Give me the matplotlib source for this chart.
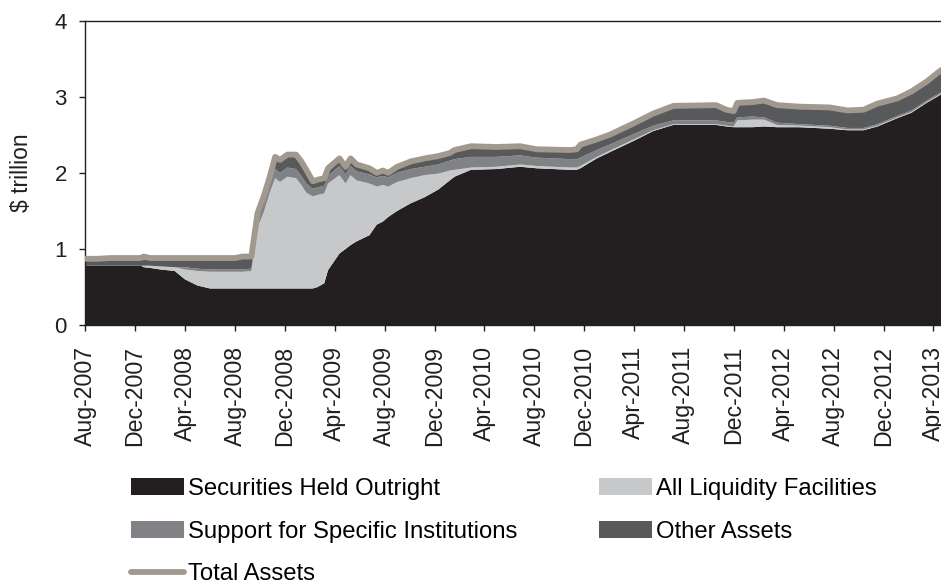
import numpy as np
import pandas as pd
import matplotlib
matplotlib.use("Agg")
import matplotlib.pyplot as plt
import matplotlib.dates as mdates
from matplotlib.patches import Patch
from matplotlib.lines import Line2D

plt.rcParams['font.family'] = ['Liberation Sans', 'DejaVu Sans']

# readings, $ trillion
dates = ['2007-08-01', '2007-09-01', '2007-10-01', '2007-11-01', '2007-12-16',
         '2007-12-22', '2008-01-07', '2008-02-01', '2008-03-07', '2008-04-01',
         '2008-05-01', '2008-06-01', '2008-07-01', '2008-08-01', '2008-08-19',
         '2008-09-10', '2008-09-25', '2008-10-10', '2008-10-25', '2008-11-07',
         '2008-11-19', '2008-12-07', '2008-12-28', '2009-01-10', '2009-01-22',
         '2009-02-07', '2009-02-19', '2009-03-07', '2009-03-16', '2009-04-13',
         '2009-04-28', '2009-05-10', '2009-05-25', '2009-06-25', '2009-07-13',
         '2009-07-28', '2009-08-10', '2009-09-01', '2009-10-04', '2009-11-07',
         '2009-12-10', '2010-01-07', '2010-01-19', '2010-02-28', '2010-05-01',
         '2010-06-28', '2010-08-07', '2010-10-28', '2010-11-13', '2010-11-22',
         '2011-01-01', '2011-02-01', '2011-04-01', '2011-05-19', '2011-07-07',
         '2011-10-19', '2011-11-13', '2011-12-01', '2011-12-10', '2012-01-16',
         '2012-02-13', '2012-03-16', '2012-05-10', '2012-07-22', '2012-09-04',
         '2012-10-13', '2012-11-16', '2013-01-04', '2013-02-07', '2013-03-16',
         '2013-04-20']

securities = [0.78, 0.78, 0.78, 0.78, 0.78, 0.76, 0.75, 0.73, 0.71, 0.60,
              0.52, 0.48, 0.48, 0.48, 0.48, 0.48, 0.48, 0.48, 0.48, 0.48,
              0.48, 0.48, 0.48, 0.48, 0.48, 0.48, 0.50, 0.55, 0.72, 0.94,
              1.00, 1.05, 1.10, 1.18, 1.32, 1.36, 1.42, 1.50, 1.60, 1.68,
              1.78, 1.90, 1.95, 2.04, 2.05, 2.08, 2.06, 2.04, 2.04, 2.06,
              2.19, 2.27, 2.42, 2.55, 2.63, 2.63, 2.61, 2.60, 2.60, 2.60,
              2.61, 2.60, 2.60, 2.58, 2.56, 2.56, 2.61, 2.72, 2.79, 2.92,
              3.03]

liquidity = [0.00, 0.00, 0.00, 0.00, 0.00, 0.02, 0.03, 0.04, 0.05, 0.13,
             0.19, 0.22, 0.22, 0.22, 0.22, 0.23, 0.80, 1.00, 1.26, 1.45,
             1.40, 1.47, 1.45, 1.36, 1.26, 1.21, 1.21, 1.18, 1.14, 1.03,
             0.86, 0.92, 0.80, 0.68, 0.50, 0.48, 0.40, 0.38, 0.33, 0.29,
             0.21, 0.13, 0.09, 0.03, 0.03, 0.03, 0.03, 0.03, 0.03, 0.03,
             0.02, 0.02, 0.02, 0.01, 0.01, 0.01, 0.01, 0.01, 0.09, 0.10,
             0.09, 0.03, 0.02, 0.02, 0.01, 0.01, 0.01, 0.01, 0.01, 0.01,
             0.01]

support = [0.00, 0.00, 0.00, 0.00, 0.00, 0.00, 0.00, 0.00, 0.00, 0.03,
           0.03, 0.03, 0.03, 0.03, 0.03, 0.03, 0.06, 0.08, 0.10, 0.12,
           0.12, 0.12, 0.12, 0.12, 0.12, 0.10, 0.10, 0.10, 0.10, 0.12,
           0.12, 0.12, 0.12, 0.12, 0.12, 0.12, 0.12, 0.12, 0.12, 0.11,
           0.12, 0.13, 0.14, 0.14, 0.13, 0.12, 0.11, 0.11, 0.11, 0.11,
           0.09, 0.08, 0.07, 0.06, 0.05, 0.05, 0.05, 0.05, 0.04, 0.04,
           0.03, 0.03, 0.02, 0.02, 0.02, 0.02, 0.02, 0.02, 0.02, 0.02,
           0.02]

other = [0.09, 0.09, 0.10, 0.10, 0.10, 0.12, 0.10, 0.11, 0.12, 0.12,
         0.14, 0.15, 0.15, 0.15, 0.17, 0.16, 0.13, 0.13, 0.11, 0.16,
         0.17, 0.17, 0.19, 0.19, 0.18, 0.10, 0.10, 0.10, 0.10, 0.10,
         0.10, 0.10, 0.09, 0.08, 0.06, 0.07, 0.06, 0.08, 0.10, 0.11,
         0.11, 0.10, 0.12, 0.14, 0.13, 0.12, 0.11, 0.12, 0.13, 0.17,
         0.14, 0.13, 0.14, 0.16, 0.19, 0.20, 0.16, 0.15, 0.19, 0.19,
         0.22, 0.23, 0.23, 0.24, 0.23, 0.24, 0.27, 0.23, 0.25, 0.25,
         0.29]

labels = ['Securities Held Outright', 'All Liquidity Facilities',
          'Support for Specific Institutions', 'Other Assets', 'Total Assets']
colors = ['#231f20', '#c7c8ca', '#818285', '#58595b']
total_color = '#a2998e'
tick_months = pd.date_range('2007-08-01', '2013-04-01', freq='4MS')

x = pd.to_datetime(dates)
total = np.array(securities) + np.array(liquidity) + np.array(support) + np.array(other)

fig = plt.figure(figsize=(9.41, 5.84), dpi=100)
ax = fig.add_axes([85/941, 1 - 325/584, 1 - 85/941, (325 - 20.7)/584])

ax.stackplot(x, securities, liquidity, support, other, colors=colors,
             linewidth=0, zorder=2)
ax.plot(x, total, color=total_color, lw=4.2, solid_capstyle='round',
        solid_joinstyle='round', zorder=3)

ax.set_xlim(pd.Timestamp('2007-08-01'), pd.Timestamp('2013-04-20'))
ax.set_ylim(0, 4)
ax.set_yticks([0, 1, 2, 3, 4])
ax.set_xticks(tick_months)
ax.xaxis.set_major_formatter(mdates.DateFormatter('%b-%Y'))
ax.tick_params(axis='x', labelrotation=90, length=4, width=1, pad=11,
               labelsize=16.7, colors='#231f20')
ax.tick_params(axis='y', length=4, width=1, pad=9, labelsize=16,
               colors='#231f20')
ax.spines['right'].set_visible(False)
for s in ['left', 'top', 'bottom']:
    ax.spines[s].set_color('#231f20')
    ax.spines[s].set_linewidth(1.0)

fig.text(22/941, 1 - 173/584, '$ trillion', rotation=90, ha='center',
         va='center', fontsize=16.5, color='#231f20')

handles = [Patch(facecolor=colors[0], edgecolor='none'),
           Patch(facecolor=colors[2], edgecolor='none'),
           Line2D([], [], color=total_color, lw=4.2, solid_capstyle='round'),
           Patch(facecolor=colors[1], edgecolor='none'),
           Patch(facecolor=colors[3], edgecolor='none')]
names = [labels[0], labels[2], labels[4], labels[1], labels[3]]
fig.legend(handles, names, ncol=2, loc='upper left',
           bbox_to_anchor=(131/941, 1 - 478/584), frameon=False,
           fontsize=17.2, handlelength=2.2, handleheight=0.71,
           handletextpad=0.17, columnspacing=3.45, labelspacing=0.86,
           borderpad=0, borderaxespad=0)

fig.savefig('out.png', dpi=100)
